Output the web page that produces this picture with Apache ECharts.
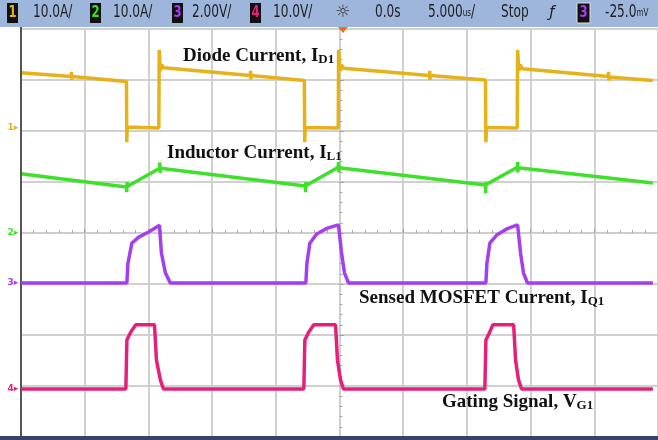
<!DOCTYPE html>
<html>
<head>
<meta charset="utf-8">
<script src="https://cdn.jsdelivr.net/npm/echarts@6/dist/echarts.min.js"></script>
<style>
  html, body { margin: 0; padding: 0; background: #fff; }
  #scope { width: 658px; height: 440px; }
</style>
</head>
<body>
<div id="scope"></div>
<script>
// ---- Scope settings shown in the header ----
const channelIds = ['1', '2', '3', '4'];
const channelScales = ['10.0A/', '10.0A/', '2.00V/', '10.0V/'];
const timeOffset = '0.0s';
const timeBase = ['5.000', 'us', '/'];
const runState = 'Stop';
const triggerSource = '3';
const triggerLevel = ['-25.0', 'mV'];

// ---- Time axis (µs) and vertical screen divisions ----
const timeTicks = [-25, -20, -15, -10, -5, 0, 5, 10, 15, 20, 25];
const divTicks = [-4, -3, -2, -1, 0, 1, 2, 3, 4];

// ---- Traces: [time µs, screen divisions] ----
const diodeCurrent = [
  [-25, 3.14], [-21.06, 3.07], [-21.04, 3.16], [-21.02, 3.0], [-21.0, 3.07],
  [-16.72, 2.97], [-16.70, 1.78], [-16.66, 2.08], [-14.18, 2.06],
  [-14.15, 3.59], [-14.06, 3.18], [-13.96, 3.3], [-13.8, 3.24],
  [-7.0, 3.09], [-6.98, 3.18], [-6.96, 3.01], [-6.94, 3.09],
  [-2.76, 2.99], [-2.73, 1.78], [-2.69, 2.07], [-0.10, 2.06],
  [-0.07, 3.59], [0.03, 3.18], [0.13, 3.3], [0.3, 3.23],
  [7.06, 3.09], [7.08, 3.18], [7.10, 3.0], [7.12, 3.09],
  [11.46, 3.0], [11.49, 1.78], [11.53, 2.07], [13.95, 2.06],
  [13.98, 3.59], [14.08, 3.18], [14.18, 3.3], [14.35, 3.22],
  [21.1, 3.07], [21.12, 3.16], [21.14, 2.99], [21.16, 3.06], [24.6, 2.99]
];
const inductorCurrent = [
  [-25, 1.16], [-16.72, 0.90], [-16.70, 0.80], [-16.68, 1.0], [-16.66, 0.91],
  [-14.12, 1.27], [-14.10, 1.38], [-14.08, 1.18], [-14.06, 1.27],
  [-2.68, 0.92], [-2.66, 0.80], [-2.64, 1.0], [-2.62, 0.93],
  [-0.10, 1.29], [-0.08, 1.39], [-0.06, 1.19], [-0.04, 1.28],
  [11.45, 0.94], [11.47, 0.78], [11.49, 1.0], [11.51, 0.95],
  [13.96, 1.29], [13.98, 1.39], [14.00, 1.19], [14.02, 1.28],
  [24.6, 0.98]
];
const mosfetCurrent = [
  [-25, -0.98], [-16.69, -0.98], [-16.61, -0.6], [-16.30, -0.20], [-15.76, -0.08],
  [-14.98, 0.02], [-14.13, 0.15], [-13.98, -0.39], [-13.67, -0.78], [-13.28, -0.98],
  [-2.64, -0.98], [-2.56, -0.6], [-2.33, -0.20], [-1.79, -0.02],
  [-1.01, 0.09], [-0.08, 0.16], [0.16, -0.39], [0.39, -0.78], [0.70, -0.98],
  [11.49, -0.98], [11.57, -0.6], [11.80, -0.20], [12.34, -0.04],
  [13.12, 0.08], [13.98, 0.16], [14.21, -0.39], [14.44, -0.78], [14.75, -0.98],
  [24.6, -0.98]
];
const gateSignal = [
  [-25, -3.06], [-16.77, -3.06], [-16.69, -2.10], [-16.38, -1.94], [-15.99, -1.80],
  [-14.52, -1.80], [-14.37, -2.49], [-14.06, -2.88], [-13.82, -3.06],
  [-2.80, -3.06], [-2.72, -2.10], [-2.41, -1.94], [-2.02, -1.80],
  [-0.31, -1.80], [-0.16, -2.49], [0.08, -2.88], [0.31, -3.06],
  [11.41, -3.06], [11.49, -2.10], [11.80, -1.94], [12.03, -1.80],
  [13.67, -1.80], [13.82, -2.49], [14.05, -2.88], [14.29, -3.06],
  [24.6, -3.06]
];

// ---- Trace captions: main text + subscript ----
const traceNames = ['Diode Current, I', 'Inductor Current, I', 'Sensed MOSFET Current, I', 'Gating Signal, V'];
const traceSubs = ['D1', 'L1', 'Q1', 'G1'];

// ---- Styling ----
const traceColors = ['#e6b21a', '#3fe02a', '#a43ff0', '#e5207b'];
const groundLevels = [2.06, 0, -0.98, -3.06]; // channel ground markers (divisions)
const captionPos = [[183, 62], [167, 159], [359, 304], [442, 408]]; // left, baseline (px)
const headerX = { box: [7, 90, 172, 250], scale: [33, 113, 192, 273] };

const G = { left: 21, top: 29, width: 644, height: 408 };
const chart = echarts.init(document.getElementById('scope'), null, { renderer: 'canvas' });

const serif = '"Liberation Serif", "Times New Roman", serif';
const narrow = '"Liberation Sans Narrow", "DejaVu Sans Condensed", "Liberation Sans", sans-serif';
const headFont = '13.5px ' + narrow;
const headStretch = 1.25; // tall, narrow scope lettering

function headText(x, text, extra) {
  return Object.assign({ type: 'text', x: x, y: 13, z: 12, scaleY: headStretch,
    style: { text: text, fill: '#1e1e1e', font: headFont, verticalAlign: 'middle' } }, extra || {});
}

const graphic = [];
// header band
graphic.push({ type: 'rect', shape: { x: 0, y: 0, width: 658, height: 27 }, style: { fill: '#9fb6dc' }, z: 10 });
channelIds.forEach((id, i) => {
  graphic.push({ type: 'rect', shape: { x: headerX.box[i], y: 3, width: 11, height: 20 }, style: { fill: '#111' }, z: 11 });
  graphic.push({ type: 'text', x: headerX.box[i] + 5.5, y: 13, z: 12, scaleY: headStretch,
    style: { text: id, fill: traceColors[i], font: 'bold 13px ' + narrow, align: 'center', verticalAlign: 'middle' } });
  graphic.push(headText(headerX.scale[i], channelScales[i]));
});
graphic.push({ type: 'text', x: 343, y: 13, z: 12,
  style: { text: '\u263C', fill: '#333', font: '17px "DejaVu Sans"', align: 'center', verticalAlign: 'middle' } });
graphic.push(headText(375, timeOffset));
graphic.push({ type: 'text', x: 428, y: 13, z: 12, scaleY: headStretch,
  style: { text: '{n|' + timeBase[0] + '}{u|' + timeBase[1] + '}{n|' + timeBase[2] + '}', verticalAlign: 'middle',
    rich: { n: { fill: '#1e1e1e', font: headFont }, u: { fill: '#1e1e1e', font: '8px ' + narrow } } } });
graphic.push(headText(501, runState));
graphic.push({ type: 'text', x: 552, y: 13, z: 12,
  style: { text: '\u0192', fill: '#1e1e1e', font: 'italic 15px "DejaVu Sans"', align: 'center', verticalAlign: 'middle' } });
graphic.push({ type: 'rect', shape: { x: 577, y: 3, width: 13, height: 20 }, style: { fill: '#111', stroke: '#ddd', lineWidth: 1 }, z: 11 });
graphic.push({ type: 'text', x: 583.5, y: 13, z: 12, scaleY: headStretch,
  style: { text: triggerSource, fill: traceColors[2], font: 'bold 13px ' + narrow, align: 'center', verticalAlign: 'middle' } });
graphic.push({ type: 'text', x: 605, y: 13, z: 12, scaleY: headStretch,
  style: { text: '{n|' + triggerLevel[0] + '}{u|' + triggerLevel[1] + '}', verticalAlign: 'middle',
    rich: { n: { fill: '#1e1e1e', font: headFont }, u: { fill: '#1e1e1e', font: '8px ' + narrow } } } });

// trigger position marker
graphic.push({ type: 'polygon', shape: { points: [[338, 27], [348, 27], [343, 33]] }, style: { fill: '#f07020' }, z: 12 });
// left frame edge and bottom band
graphic.push({ type: 'line', shape: { x1: 21, y1: 27, x2: 21, y2: 437 }, style: { stroke: '#555', lineWidth: 2 }, z: 5 });
graphic.push({ type: 'rect', shape: { x: 0, y: 436, width: 658, height: 4 }, style: { fill: '#34446a' }, z: 10 });

// channel ground markers
const divPx = G.height / 8;
const midY = G.top + G.height / 2;
channelIds.forEach((id, i) => {
  const y = midY - groundLevels[i] * divPx;
  graphic.push({ type: 'text', x: 13, y: y, z: 12,
    style: { text: id + '\u25B8', fill: traceColors[i], font: 'bold 9px "DejaVu Sans"', align: 'center', verticalAlign: 'middle' } });
});

// trace captions with subscripts
const measure = document.createElement('canvas').getContext('2d');
const mainFont = 'bold 19px ' + serif;
const subFont = 'bold 13px ' + serif;
measure.font = mainFont;
traceNames.forEach((name, i) => {
  const [x, base] = captionPos[i];
  const w = measure.measureText(name).width;
  graphic.push({ type: 'text', x: x, y: base - 6.4, z: 20,
    style: { text: name, fill: '#111', font: mainFont, verticalAlign: 'middle' } });
  graphic.push({ type: 'text', x: x + w, y: base - 2.2, z: 20,
    style: { text: traceSubs[i], fill: '#111', font: subFont, verticalAlign: 'middle' } });
});

const traces = [diodeCurrent, inductorCurrent, mosfetCurrent, gateSignal];

chart.setOption({
  animation: false,
  backgroundColor: '#fff',
  grid: { left: G.left, top: G.top, width: G.width, height: G.height, containLabel: false },
  xAxis: {
    type: 'value', min: timeTicks[0], max: timeTicks[timeTicks.length - 1], interval: 5,
    axisLine: { show: true, onZero: true, lineStyle: { color: '#cfcfcf', width: 2 } },
    axisTick: { show: true, inside: true, length: 4, lineStyle: { color: '#9a9a9a' } },
    minorTick: { show: true, splitNumber: 5, length: 3, lineStyle: { color: '#a8a8a8' } },
    axisLabel: { show: false },
    splitLine: { show: true, lineStyle: { color: '#d0d0d0', width: 2 } }
  },
  yAxis: {
    type: 'value', min: divTicks[0], max: divTicks[divTicks.length - 1], interval: 1,
    axisLine: { show: true, onZero: true, lineStyle: { color: '#cfcfcf', width: 2 } },
    axisTick: { show: true, inside: true, length: 4, lineStyle: { color: '#9a9a9a' } },
    minorTick: { show: true, splitNumber: 5, length: 3, lineStyle: { color: '#a8a8a8' } },
    axisLabel: { show: false },
    splitLine: { show: true, lineStyle: { color: '#d0d0d0', width: 2 } }
  },
  series: traces.map((d, i) => ({
    type: 'line', data: d, showSymbol: false, symbol: 'none', sampling: null,
    lineStyle: { color: traceColors[i], width: 3.5 }, z: 3 + i, silent: true
  })),
  graphic: graphic
});
</script>
</body>
</html>
